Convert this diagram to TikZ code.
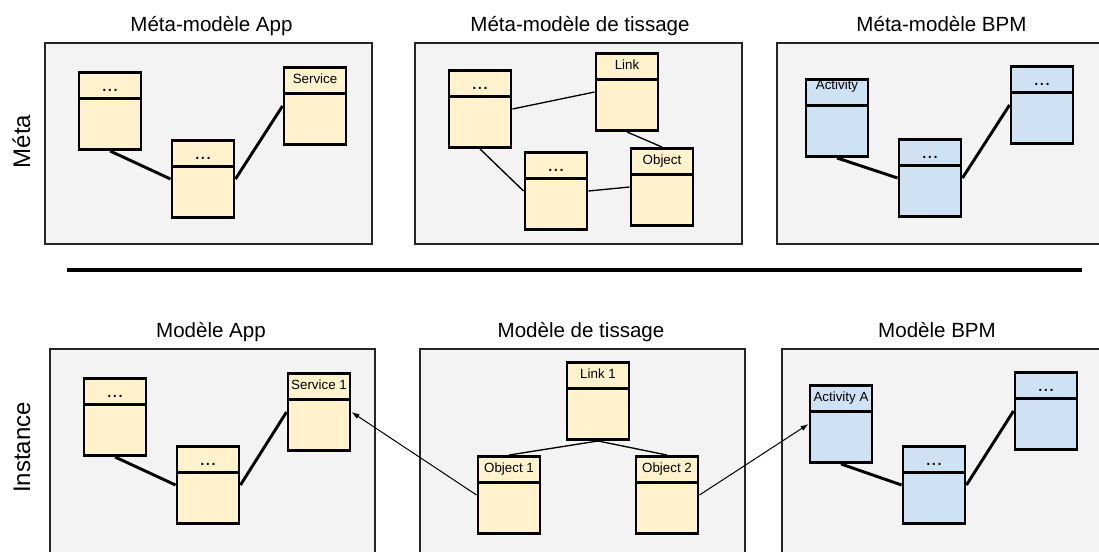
\documentclass[tikz,border=0pt]{standalone}
\usepackage{fontspec}
\setmainfont{Liberation Sans}
\usetikzlibrary{arrows.meta}

\definecolor{panelgray}{HTML}{F3F3F3}
\definecolor{clsyellow}{HTML}{FFF2CC}
\definecolor{clsblue}{HTML}{CFE2F3}
\newcommand{\clsdots}{...}

\tikzset{
  panel/.style={draw=black!85,line width=1.5pt,fill=panelgray},
  cls/.style={draw=black,line width=2.2pt,minimum width=46.5pt,minimum height=57.75pt,inner sep=0pt,
    path picture={\draw[line width=2.2pt]
      ([yshift=-19.5pt]path picture bounding box.north west) --
      ([yshift=-19.5pt]path picture bounding box.north east);}},
  ycls/.style={cls,fill=clsyellow},
  bcls/.style={cls,fill=clsblue},
  hdr/.style={inner sep=0pt,font=\fontsize{10}{12}\selectfont,text height=7.2pt,text depth=0pt},
  hdrup/.style={hdr,yshift=5pt},
  dots/.style={inner sep=0pt,font=\fontsize{15}{18}\selectfont,text height=10.7pt,text depth=0pt},
  ttl/.style={font=\fontsize{15.4}{18}\selectfont,anchor=base},
  side/.style={font=\fontsize{18}{21}\selectfont,rotate=90,anchor=base},
  thk/.style={line width=2.2pt},
  thn/.style={line width=1pt},
  arr/.style={-{Latex[length=6pt,width=4pt]},line width=0.75pt}
}

\begin{document}
\begin{tikzpicture}[x=0.75pt,y=-0.75pt]
\useasboundingbox (0,0) rectangle (1099,551);

% side labels and separator
\node[side] (lbl-meta) at (30,141.5) {Méta};
\node[side] (lbl-inst) at (30,447.5) {Instance};
\draw[line width=3pt] (67,270) -- (1082,270);

% panels
\draw[panel] (45,43) rectangle (372,244);
\draw[panel] (415,43) rectangle (742,244);
\draw[panel] (777,43) rectangle (1100,244);
\draw[panel] (50,349) rectangle (375,556);
\draw[panel] (420,349) rectangle (745,556);
\draw[panel] (782,349) rectangle (1100,556);

\node[ttl] (ttl-mapp) at (211.5,31.5) {Méta-modèle App};
\node[ttl] (ttl-mtis) at (580,31.5) {Méta-modèle de tissage};
\node[ttl] (ttl-mbpm) at (941.5,31.5) {Méta-modèle BPM};
\node[ttl] (ttl-app) at (211,337.5) {Modèle App};
\node[ttl] (ttl-tis) at (581,337.5) {Modèle de tissage};
\node[ttl] (ttl-bpm) at (937,337.5) {Modèle BPM};

% classes
\foreach \n/\x/\y/\s/\t in {ma1/110/111/dots/\clsdots, ma2/203/179/dots/\clsdots, ma3/315/106/hdr/Service,
    mt1/480/109/dots/\clsdots, mtlink/627/92/hdr/Link, mt2/556/191/dots/\clsdots, mtobj/662/187/hdr/Object,
    ia1/115/417/dots/\clsdots, ia2/208/485/dots/\clsdots, isrv/319/412/hdr/Service 1,
    itlink/598/401/hdr/Link 1, iobj1/509/495/hdr/Object 1, iobj2/667/495/hdr/Object 2}
  {\node[ycls] (\n) at (\x,\y) {};
   \node[\s] (\n-h) at ([yshift=-9.75pt]\n.north) {\t};}
\foreach \n/\x/\y/\s/\t in {mbact/837/118/hdrup/Activity, mb2/930/178/dots/\clsdots, mb3/1042/105/dots/\clsdots,
    ibact/841/424/hdr/Activity A, ib2/934/485/dots/\clsdots, ib3/1046/411/dots/\clsdots}
  {\node[bcls] (\n) at (\x,\y) {};
   \node[\s] (\n-h) at ([yshift=-9.75pt]\n.north) {\t};}

% connectors
\draw[thk] (ma1.south) -- (ma2.west);
\draw[thk] (ma2.east) -- (ma3.west);
\draw[thn] (mt1.east) -- (mtlink.west);
\draw[thn] (mtlink.south) -- (mtobj.north);
\draw[thn] (mt1.south) -- (mt2.west);
\draw[thn] (mt2.east) -- (mtobj.west);
\draw[thk] (mbact.south) -- (mb2.west);
\draw[thk] (mb2.east) -- (mb3.west);

\draw[thk] (ia1.south) -- (ia2.west);
\draw[thk] (ia2.east) -- (isrv.west);
\draw[thn] (itlink.south) -- (iobj1.north);
\draw[thn] (itlink.south) -- (iobj2.north);
\draw[thk] (ibact.south) -- (ib2.west);
\draw[thk] (ib2.east) -- (ib3.west);

\draw[arr] (iobj1.west) -- (isrv.east);
\draw[arr] (iobj2.east) -- (ibact.west);
\end{tikzpicture}
\end{document}
